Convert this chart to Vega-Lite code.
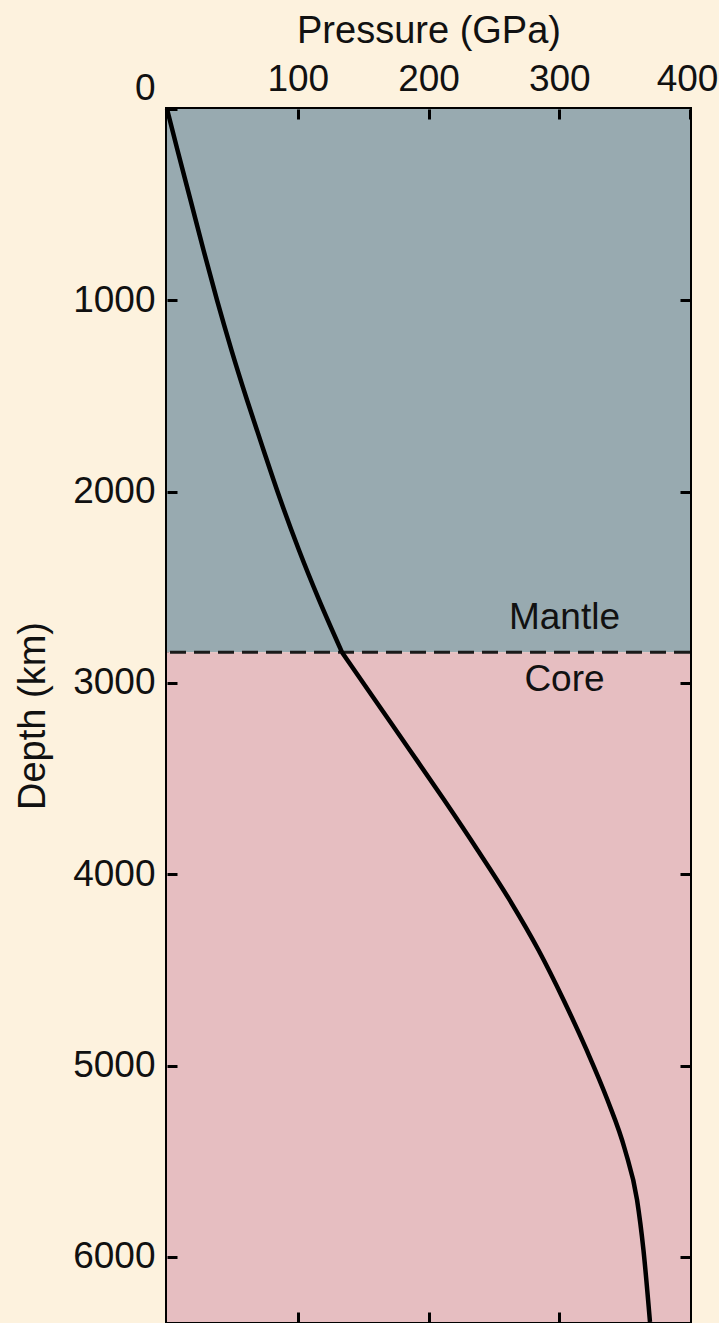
{
  "$schema": "https://vega.github.io/schema/vega-lite/v6.json",
  "width": 523,
  "height": 1213,
  "autosize": {"type": "none"},
  "padding": {"left": 167, "top": 109, "right": 29, "bottom": 1},
  "background": "#FDF2DE",
  "config": {
    "font": "Liberation Sans",
    "view": {"stroke": "#000000", "strokeWidth": 4},
    "axis": {
      "domain": false,
      "grid": false,
      "ticks": true,
      "tickColor": "#000000",
      "tickWidth": 3,
      "tickSize": 10,
      "offset": -10,
      "labelFont": "Liberation Sans",
      "labelFontSize": 37,
      "labelColor": "#111111",
      "labelFlush": false,
      "labelOverlap": false,
      "titleFont": "Liberation Sans",
      "titleFontSize": 38,
      "titleFontWeight": "normal",
      "titleColor": "#111111"
    }
  },
  "datasets": {
    "regions": [
      {"region": "Mantle", "top": 0, "bottom": 2839},
      {"region": "Core", "top": 2839, "bottom": 6340}
    ],
    "profile": [
      {"zone": "mantle", "pressure": 0, "depth": 0},
      {"zone": "mantle", "pressure": 8.0, "depth": 214},
      {"zone": "mantle", "pressure": 18.0, "depth": 476},
      {"zone": "mantle", "pressure": 27.9, "depth": 737},
      {"zone": "mantle", "pressure": 38.2, "depth": 998},
      {"zone": "mantle", "pressure": 49.3, "depth": 1260},
      {"zone": "mantle", "pressure": 61.2, "depth": 1521},
      {"zone": "mantle", "pressure": 73.8, "depth": 1782},
      {"zone": "mantle", "pressure": 86.8, "depth": 2044},
      {"zone": "mantle", "pressure": 100.9, "depth": 2305},
      {"zone": "mantle", "pressure": 116.3, "depth": 2566},
      {"zone": "mantle", "pressure": 133.8, "depth": 2839},
      {"zone": "core", "pressure": 133.8, "depth": 2839},
      {"zone": "core", "pressure": 159.1, "depth": 3089},
      {"zone": "core", "pressure": 185.6, "depth": 3350},
      {"zone": "core", "pressure": 212.0, "depth": 3612},
      {"zone": "core", "pressure": 237.5, "depth": 3873},
      {"zone": "core", "pressure": 262.0, "depth": 4134},
      {"zone": "core", "pressure": 284.1, "depth": 4396},
      {"zone": "core", "pressure": 303.3, "depth": 4657},
      {"zone": "core", "pressure": 320.9, "depth": 4918},
      {"zone": "core", "pressure": 336.9, "depth": 5180},
      {"zone": "core", "pressure": 350.3, "depth": 5441},
      {"zone": "core", "pressure": 359.5, "depth": 5702},
      {"zone": "core", "pressure": 364.4, "depth": 5964},
      {"zone": "core", "pressure": 369.4, "depth": 6340}
    ],
    "labels": [
      {"label": "Mantle", "pressure": 304, "depth": 2661},
      {"label": "Core", "pressure": 304, "depth": 2985}
    ],
    "boundary": [
      {"depth": 2839}
    ]
  },
  "layer": [
    {
      "data": {"name": "regions"},
      "mark": {"type": "rect"},
      "encoding": {
        "y": {
          "field": "top",
          "type": "quantitative",
          "scale": {"domain": [0, 6340], "nice": false, "zero": false, "reverse": true},
          "axis": {
            "orient": "left",
            "zindex": 2,
            "title": "Depth (km)",
            "values": [0, 1000, 2000, 3000, 4000, 5000, 6000],
            "format": "d",
            "labelPadding": 12,
            "titlePadding": 20,
            "labelOffset": {"condition": {"test": "datum.value === 0", "value": -21}, "value": 0}
          }
        },
        "y2": {"field": "bottom"},
        "color": {
          "field": "region",
          "type": "nominal",
          "scale": {"domain": ["Mantle", "Core"], "range": ["#98AAB0", "#E6BEC1"]},
          "legend": null
        }
      }
    },
    {
      "data": {"name": "boundary"},
      "mark": {"type": "rule", "color": "#1a1a1a", "strokeWidth": 3, "strokeDash": [16, 8]},
      "encoding": {
        "y": {"field": "depth", "type": "quantitative", "axis": null}
      }
    },
    {
      "data": {"name": "profile"},
      "mark": {"type": "line", "color": "#000000", "strokeWidth": 4.5, "interpolate": "monotone"},
      "encoding": {
        "x": {
          "field": "pressure",
          "type": "quantitative",
          "scale": {"domain": [0, 400], "nice": false, "zero": false},
          "axis": {
            "orient": "top",
            "zindex": 2,
            "title": "Pressure (GPa)",
            "values": [100, 200, 300, 400],
            "labelPadding": 11,
            "titlePadding": 10,
            "labelOffset": {"condition": {"test": "datum.value === 400", "value": -3}, "value": 0}
          }
        },
        "y": {
          "field": "depth",
          "type": "quantitative",
          "axis": {
            "orient": "right",
            "zindex": 2,
            "title": null,
            "labels": false,
            "values": [1000, 2000, 3000, 4000, 5000, 6000]
          }
        },
        "detail": {"field": "zone", "type": "nominal"},
        "order": {"field": "depth", "type": "quantitative"}
      }
    },
    {
      "data": {"name": "labels"},
      "mark": {"type": "text", "font": "Liberation Sans", "fontSize": 37, "color": "#111111", "baseline": "middle", "align": "center"},
      "encoding": {
        "x": {
          "field": "pressure",
          "type": "quantitative",
          "axis": {
            "orient": "bottom",
            "zindex": 2,
            "title": null,
            "labels": false,
            "values": [100, 200, 300]
          }
        },
        "y": {"field": "depth", "type": "quantitative", "axis": null},
        "text": {"field": "label"}
      }
    }
  ]
}
